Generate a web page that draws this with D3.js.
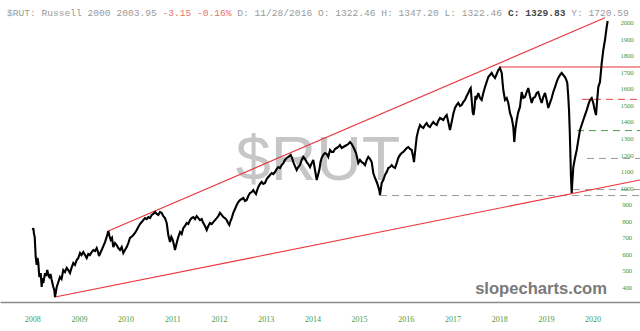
<!DOCTYPE html>
<html><head><meta charset="utf-8">
<script src="https://cdn.jsdelivr.net/npm/d3@7"></script>
<style>
html,body{margin:0;padding:0;background:#fff;}
svg{display:block;}
</style></head>
<body>
<svg id="chart" width="640" height="331"></svg>
<script>
// ---------- data ----------
const years = [2008,2009,2010,2011,2012,2013,2014,2015,2016,2017,2018,2019,2020];
const priceTicks = [400,500,600,700,800,900,1000,1100,1200,1300,1400,1500,1600,1700,1800,1900,2000];

const dates = [
2008.011,2008.024,2008.039,2008.054,2008.075,2008.096,2008.113,2008.131,2008.152,2008.182,
2008.203,2008.221,2008.238,2008.274,2008.296,2008.323,2008.345,2008.366,2008.392,2008.418,
2008.452,2008.473,2008.488,2008.525,2008.553,2008.595,2008.628,2008.666,2008.702,2008.739,
2008.773,2008.809,2008.842,2008.880,2008.916,2008.953,2008.987,2009.024,2009.056,2009.094,
2009.131,2009.167,2009.201,2009.238,2009.274,2009.308,2009.345,2009.381,2009.409,2009.431,
2009.458,2009.488,2009.523,2009.559,2009.595,2009.630,2009.655,2009.681,2009.709,2009.737,
2009.773,2009.809,2009.844,2009.880,2009.916,2009.951,2009.987,2010.024,2010.058,2010.094,
2010.148,2010.201,2010.238,2010.272,2010.308,2010.345,2010.379,2010.415,2010.452,2010.486,
2010.522,2010.559,2010.593,2010.630,2010.666,2010.700,2010.737,2010.773,2010.807,2010.844,
2010.880,2010.914,2010.951,2010.979,2011.009,2011.036,2011.058,2011.094,2011.122,2011.165,
2011.201,2011.236,2011.272,2011.308,2011.343,2011.379,2011.415,2011.450,2011.486,2011.522,
2011.557,2011.593,2011.630,2011.664,2011.700,2011.737,2011.771,2011.807,2011.844,2011.878,
2011.914,2011.951,2011.985,2012.021,2012.058,2012.092,2012.128,2012.165,2012.193,2012.221,
2012.246,2012.272,2012.306,2012.343,2012.379,2012.413,2012.450,2012.486,2012.521,2012.557,
2012.593,2012.627,2012.664,2012.700,2012.734,2012.760,2012.792,2012.818,2012.842,2012.878,
2012.914,2012.949,2012.985,2013.021,2013.056,2013.092,2013.128,2013.163,2013.199,2013.235,
2013.270,2013.306,2013.343,2013.377,2013.413,2013.450,2013.484,2013.535,2013.563,2013.591,
2013.627,2013.664,2013.698,2013.734,2013.771,2013.805,2013.842,2013.878,2013.912,2013.949,
2013.985,2014.019,2014.056,2014.092,2014.120,2014.148,2014.174,2014.199,2014.233,2014.270,
2014.306,2014.340,2014.377,2014.413,2014.447,2014.484,2014.520,2014.555,2014.591,2014.627,
2014.662,2014.698,2014.735,2014.769,2014.805,2014.842,2014.876,2014.906,2014.934,2014.959,
2014.983,2015.019,2015.056,2015.090,2015.126,2015.163,2015.197,2015.233,2015.270,2015.304,
2015.340,2015.377,2015.405,2015.432,2015.447,2015.484,2015.518,2015.555,2015.591,2015.625,
2015.662,2015.698,2015.732,2015.769,2015.805,2015.839,2015.876,2015.912,2015.946,2015.983,
2016.019,2016.053,2016.090,2016.126,2016.154,2016.175,2016.203,2016.233,2016.268,2016.304,
2016.340,2016.375,2016.411,2016.447,2016.482,2016.518,2016.555,2016.589,2016.625,2016.662,
2016.696,2016.732,2016.769,2016.803,2016.839,2016.876,2016.910,2016.946,2016.983,2017.017,
2017.053,2017.090,2017.124,2017.160,2017.197,2017.231,2017.268,2017.304,2017.338,2017.375,
2017.390,2017.411,2017.432,2017.450,2017.471,2017.492,2017.518,2017.552,2017.589,2017.625,
2017.660,2017.696,2017.732,2017.767,2017.803,2017.839,2017.873,2017.910,2017.946,2017.981,
2018.017,2018.054,2018.071,2018.088,2018.124,2018.161,2018.195,2018.231,2018.268,2018.302,
2018.323,2018.345,2018.375,2018.409,2018.445,2018.482,2018.516,2018.552,2018.589,2018.623,
2018.659,2018.696,2018.730,2018.767,2018.803,2018.837,2018.873,2018.910,2018.944,2018.981,
2019.017,2019.051,2019.088,2019.124,2019.158,2019.195,2019.231,2019.265,2019.302,2019.338,
2019.372,2019.409,2019.437,2019.458,2019.477,2019.495,2019.510,2019.522,2019.537,2019.552,
2019.569,2019.587,2019.623,2019.660,2019.694,2019.730,2019.766,2019.801,2019.837,2019.874,
2019.908,2019.944,2019.981,2020.015,2020.045,2020.073,2020.098,2020.122,2020.158,2020.195,
2020.229,2020.265,2020.302,2020.323
];
const closes = [
746,758,722,703,583,535,577,547,462,486,
402,456,426,486,468,504,474,462,480,444,
402,384,341,402,426,462,450,504,492,517,
504,486,517,547,535,565,577,607,595,613,
595,577,601,595,613,625,619,637,613,589,
607,625,649,673,704,740,710,686,698,643,
667,655,637,625,643,607,625,643,667,698,
710,728,746,764,782,794,806,818,812,824,
818,837,843,855,843,837,855,849,830,818,
788,716,673,704,686,655,625,667,698,734,
722,758,770,788,782,806,818,824,812,830,
818,806,812,788,770,746,770,788,782,794,
806,818,830,849,837,824,818,806,788,776,
800,818,849,873,897,915,927,933,939,921,
927,951,969,975,987,975,963,987,1006,1024,
1036,1024,1030,1054,1066,1078,1090,1084,1096,1114,
1126,1120,1138,1150,1169,1181,1187,1199,1181,1156,
1132,1108,1126,1138,1169,1187,1175,1156,1144,1126,
1150,1169,1108,1048,1078,1108,1156,1181,1199,1211,
1205,1187,1229,1217,1217,1235,1241,1247,1259,1241,
1247,1253,1259,1265,1277,1265,1247,1229,1211,1181,
1150,1169,1156,1150,1138,1169,1187,1175,1156,1090,
1060,1036,1012,987,957,1030,1048,1078,1096,1120,
1126,1138,1126,1120,1150,1181,1199,1211,1217,1229,
1241,1247,1235,1229,1193,1156,1229,1307,1350,1380,
1368,1362,1380,1392,1374,1368,1386,1398,1386,1380,
1404,1422,1416,1410,1428,1440,1398,1350,1398,1446,
1483,1501,1513,1495,1501,1519,1531,1555,1573,1597,
1603,1531,1458,1440,1483,1555,1543,1573,1543,1531,
1573,1609,1640,1670,1682,1694,1676,1664,1688,1712,
1724,1694,1640,1591,1531,1543,1513,1452,1422,1368,
1277,1350,1410,1458,1489,1579,1543,1549,1579,1603,
1555,1513,1543,1549,1573,1579,1543,1513,1549,1573,
1531,1483,1513,1543,1579,1609,1640,1664,1682,1694,
1682,1670,1652,1634,1561,1470,1350,1229,1066,969,
1048,1126,1181,1229,1289,1350,1380,1410,1440,1470,
1501,1531,1543,1513,1470,1440,1531,1609,1640,1754,
1833,1893,1972,2008
];

// drawn trend / level lines: [date, value] pairs
const upperTrend = [[2009.630, 740], [2020.265, 2027]];
const lowerTrend = [[2008.488, 341], [2021.015, 1048]];
const resistance = [[2017.990, 1730], [2021.015, 1730]];
const redDashed  = [[2019.773, 1535], [2021.015, 1535]];
const greenDashed = [[2019.666, 1346], [2021.015, 1346]];
const grayDashed = [
  [[2015.447, 954], [2021.015, 954]],
  [[2019.580, 990], [2021.015, 990]],
  [[2019.880, 1178], [2021.015, 1178]]
];

const header = [
  {t: "$RUT: Russell 2000 2003.95 ", c: "#9a9a9a", w: "normal"},
  {t: "-3.15 -0.16% ", c: "#e57373", w: "normal"},
  {t: "D: 11/28/2016 O: 1322.46 H: 1347.20 L: 1322.46 ", c: "#9a9a9a", w: "normal"},
  {t: "C: 1329.83", c: "#444", w: "bold"},
  {t: " Y: 1720.59", c: "#9a9a9a", w: "normal"}
];

// ---------- chart ----------
const W = 640, H = 331;
const svg = d3.select("#chart");
const x = d3.scaleLinear().domain([2007.3105, 2021.015]).range([0, W]);
const y = d3.scaleLinear().domain([400, 2000]).range([287.3, 22.3]);

// watermark
svg.append("text")
  .attr("x", 318).attr("y", 180)
  .attr("text-anchor", "middle")
  .attr("font-family", "Liberation Sans, Arial, sans-serif")
  .attr("font-size", 63)
  .attr("fill", "#c6c6c6")
  .text("$RUT");

const line = d3.line().x(d => x(d[0])).y(d => y(d[1]));

// dashed levels
grayDashed.forEach(seg => {
  svg.append("path").attr("d", line(seg))
    .attr("stroke", "#9a9a9a").attr("stroke-width", 1)
    .attr("stroke-dasharray", "7,5").attr("fill", "none");
});
svg.append("path").attr("d", line(greenDashed))
  .attr("stroke", "#4f9a4f").attr("stroke-width", 1)
  .attr("stroke-dasharray", "7,5").attr("fill", "none");
svg.append("path").attr("d", line(redDashed))
  .attr("stroke", "#e04040").attr("stroke-width", 1)
  .attr("stroke-dasharray", "7,5").attr("fill", "none");

// trend lines
[upperTrend, lowerTrend, resistance].forEach(seg => {
  svg.append("path").attr("d", line(seg))
    .attr("stroke", "#e8353d").attr("stroke-width", 1.1).attr("fill", "none");
});

// price series
const series = dates.map((d, i) => [d, closes[i]]);
svg.append("path").attr("d", line(series))
  .attr("stroke", "#000").attr("stroke-width", 2.1)
  .attr("stroke-linejoin", "miter").attr("stroke-miterlimit", 3).attr("fill", "none");

// bottom axis
const xAxis = svg.append("g").attr("transform", "translate(0,302)")
  .call(d3.axisBottom(x).tickValues(years).tickFormat(d3.format("d")).tickSize(0).tickSizeOuter(0));
xAxis.select(".domain").attr("stroke", "#8a8a8a").attr("stroke-width", 1.5);
xAxis.selectAll("text")
  .attr("y", 20).attr("dy", 0)
  .attr("fill", "#4a9a4a")
  .attr("font-family", "Liberation Serif, Times New Roman, serif")
  .attr("font-size", 8);

// right axis
const yAxis = svg.append("g").attr("transform", "translate(627,0)")
  .call(d3.axisRight(y).tickValues(priceTicks).tickFormat(d3.format("d")).tickSize(0));
yAxis.select(".domain").remove();
yAxis.selectAll("text")
  .attr("x", 0).attr("dy", "0.32em")
  .attr("text-anchor", "middle")
  .attr("fill", "#4a9a4a")
  .attr("font-family", "Liberation Serif, Times New Roman, serif")
  .attr("font-size", 7)
  .attr("letter-spacing", -0.3);

// header
const ht = svg.append("text").attr("x", 7).attr("y", 16)
  .attr("font-family", "Liberation Mono, Courier New, monospace")
  .attr("font-size", 9.6)
  .attr("xml:space", "preserve")
  .style("white-space", "pre");
header.forEach(h => {
  ht.append("tspan").attr("fill", h.c).attr("font-weight", h.w).text(h.t);
});

// brand
svg.append("text")
  .attr("x", 607).attr("y", 294)
  .attr("text-anchor", "end")
  .attr("font-family", "Liberation Sans, Arial, sans-serif")
  .attr("font-weight", "bold")
  .attr("font-size", 16.6)
  .attr("fill", "#7a7a7a")
  .text("slopecharts.com");
</script>
</body></html>
